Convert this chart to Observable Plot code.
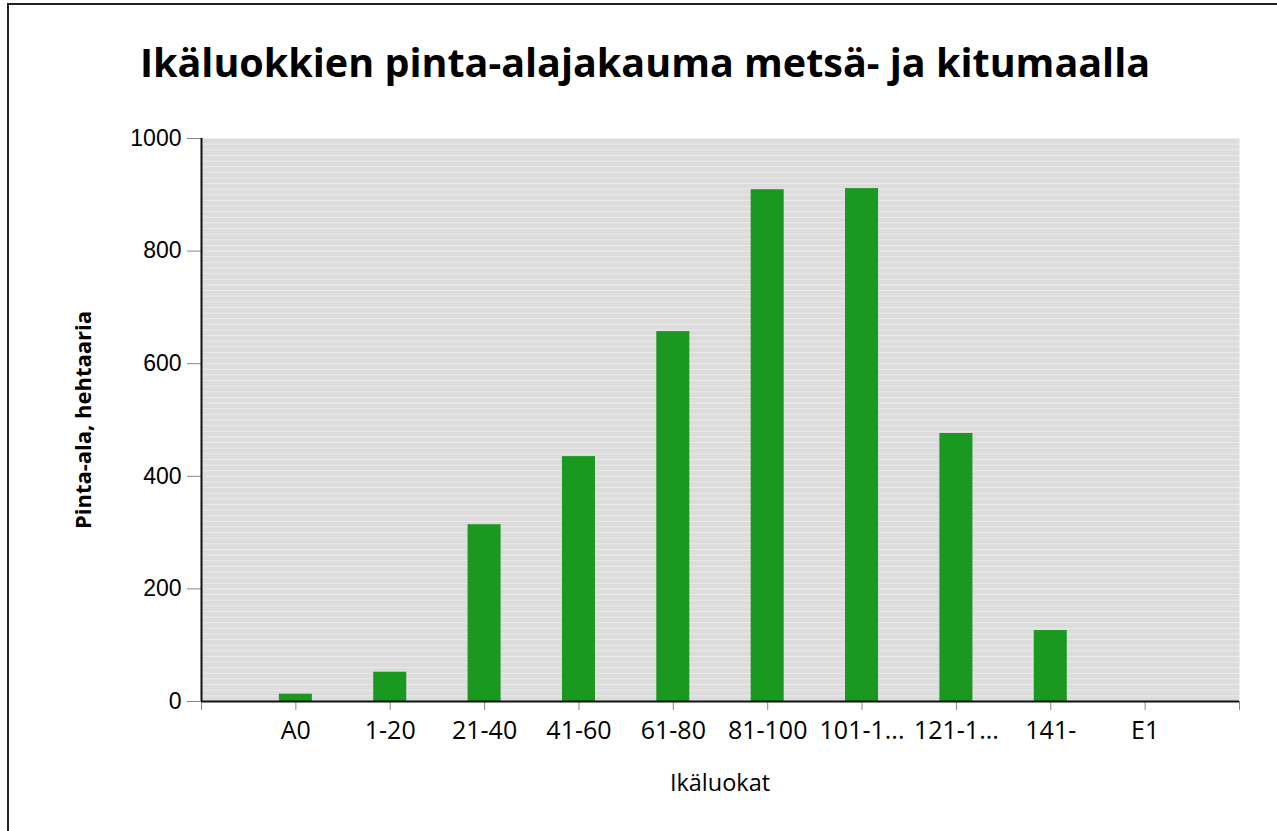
<!DOCTYPE html>
<html>
<head>
<meta charset="utf-8">
<script src="https://cdn.jsdelivr.net/npm/d3@7"></script>
<script src="https://cdn.jsdelivr.net/npm/@observablehq/plot@0.6"></script>
<style>
  html, body { margin: 0; padding: 0; background: #fff; }
  #wrap { position: relative; width: 1277px; height: 831px; overflow: hidden; }
  #frame { position: absolute; left: 7px; top: 3px; width: 1400px; height: 900px;
           border-left: 2px solid #222; border-top: 2px solid #222; }
  #title { position: absolute; left: 0; width: 1290px; top: 35px; text-align: center; line-height: 54px;
           font-family: "Open Sans", sans-serif; font-weight: 700; font-size: 39.5px; color: #000; }
  #xlabel { position: absolute; left: 201px; width: 1038px; top: 766px; text-align: center; line-height: 32px;
            font-family: "Open Sans", sans-serif; font-size: 23.5px; color: #000; }
  #ylabel { position: absolute; left: 82px; top: 420px; transform: translate(-50%, -50%) rotate(-90deg);
            white-space: nowrap; font-family: "Open Sans", sans-serif; font-weight: 700; font-size: 22px; color: #000; }
  #chart { position: absolute; left: 0; top: 0; }
</style>
</head>
<body>
<div id="wrap">
  <div id="chart"></div>
  <div id="frame"></div>
  <div id="title">Ikäluokkien pinta-alajakauma metsä- ja kitumaalla</div>
  <div id="ylabel">Pinta-ala, hehtaaria</div>
  <div id="xlabel">Ikäluokat</div>
</div>
<script>
const categories = ["A0", "1-20", "21-40", "41-60", "61-80", "81-100", "101-1...", "121-1...", "141-", "E1"];
const areas = [13, 52, 314, 435, 657, 909, 911, 476, 126, 0];
const yTicks = [0, 200, 400, 600, 800, 1000];

const data = categories.map((c, i) => ({pos: i + 1, label: c, value: areas[i]}));
const xTickPositions = d3.range(0, categories.length + 2);
const stripeTicks = d3.range(0, 1000, 10);

const chart = Plot.plot({
  width: 1277,
  height: 831,
  marginLeft: 201,
  marginRight: 38,
  marginTop: 138,
  marginBottom: 130,
  style: {background: "transparent", overflow: "visible"},
  x: {domain: [0, categories.length + 1]},
  y: {domain: [0, 1000]},
  marks: [
    Plot.frame({fill: "#dcdcdc", stroke: null}),
    Plot.gridY(stripeTicks, {stroke: "#ffffff", strokeOpacity: 0.45, strokeWidth: 1}),
    Plot.rectY(data, {x1: d => d.pos - 0.175, x2: d => d.pos + 0.175, y1: 0, y2: "value", fill: "#1b981f"}),
    Plot.axisY({ticks: yTicks, tickSize: 14, tickPadding: 6, stroke: "#888", tickFormat: d3.format("d"),
      fontSize: 23, fontFamily: "Liberation Sans, Arial, sans-serif", fill: "#000", label: null}),
    Plot.axisX({ticks: xTickPositions, tickSize: 9, tickPadding: 11, stroke: "#888",
      tickFormat: i => categories[i - 1] ?? "",
      fontSize: 25, fontFamily: "Open Sans, sans-serif", fill: "#000", label: null}),
    Plot.ruleY([0], {stroke: "#111", strokeWidth: 2}),
    Plot.ruleX([0], {stroke: "#111", strokeWidth: 2})
  ]
});
document.getElementById("chart").appendChild(chart);
</script>
</body>
</html>
